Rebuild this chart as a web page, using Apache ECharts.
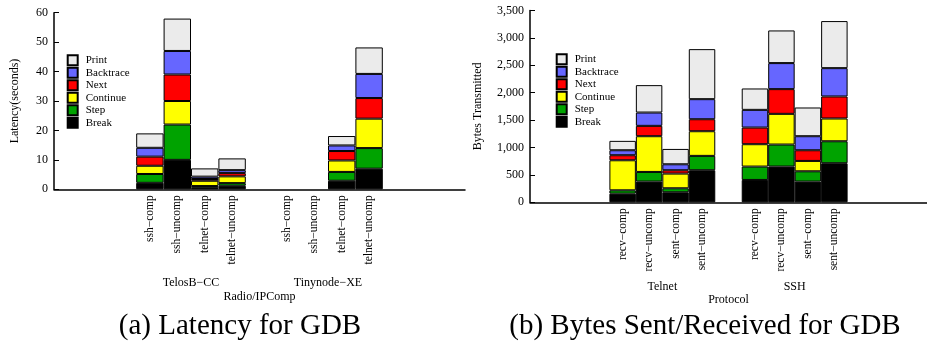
<!DOCTYPE html>
<html><head><meta charset="utf-8">
<script src="https://cdn.jsdelivr.net/npm/echarts@6/dist/echarts.min.js"></script>
<style>html,body{margin:0;padding:0;background:#fff}#c{width:927px;height:341px}</style>
</head><body><div id="c"></div>
<script>
// ---- data ----
const seriesNames = ['Break','Step','Continue','Next','Backtrace','Print'];
const legendOrder = ['Print','Backtrace','Next','Continue','Step','Break'];
const colors = {Break:'#000000',Step:'#00a300',Continue:'#ffff00',Next:'#ff0000',Backtrace:'#6666ff',Print:'#ebebeb'};

// (a) Latency
const latGroups = ['TelosB−CC','Tinynode−XE'];
const latCats = ['ssh−comp','ssh−uncomp','telnet−comp','telnet−uncomp'];
const latBreak    = [2.2, 10, 0.5, 1.2, 0, 0, 2.9, 7];
const latStep     = [3.0, 12, 0.6, 0.9, 0, 0, 3.0, 7];
const latContinue = [2.8, 8, 1.8, 2.3, 0, 0, 3.9, 10];
const latNext     = [3.1, 9, 0.6, 1.1, 0, 0, 3.2, 7];
const latBacktrace= [3.0, 8, 0.8, 1.0, 0, 0, 1.9, 8.2];
const latPrint    = [4.9, 11, 2.8, 4.0, 0, 0, 3.2, 9];
const latTicks = [0,10,20,30,40,50,60];

// (b) Bytes
const byteGroups = ['Telnet','SSH'];
const byteCats = ['recv−comp','recv−uncomp','sent−comp','sent−uncomp'];
const byteBreak    = [158, 378, 183, 585, 408, 652, 378, 713];
const byteStep     = [61, 176, 73, 262, 244, 402, 188, 401];
const byteContinue = [548, 652, 268, 450, 408, 560, 189, 415];
const byteNext     = [92, 189, 61, 219, 304, 451, 195, 402];
const byteBacktrace= [91, 243, 109, 366, 323, 475, 256, 517];
const bytePrint    = [171, 500, 280, 913, 390, 596, 524, 859];
const byteTicks = [0,500,1000,1500,2000,2500,3000,3500];

// ---- layout helpers: 3 empty slots, group, 1 empty slot, group, 3 empty slots ----
function slotLabels(cats){
  const out=['','',''];
  cats.forEach(c=>out.push(c)); out.push(''); cats.forEach(c=>out.push(c)); out.push('','','');
  return out.map((l,i)=>i+'|'+l);
}
function slotVals(v){
  const f=x=> x===0 ? '-' : x;
  return ['-','-','-'].concat(v.slice(0,4).map(f),['-'],v.slice(4,8).map(f),['-','-','-']);
}
const FONT='Liberation Serif';
const latSets = {Break:latBreak,Step:latStep,Continue:latContinue,Next:latNext,Backtrace:latBacktrace,Print:latPrint};
const byteSets = {Break:byteBreak,Step:byteStep,Continue:byteContinue,Next:byteNext,Backtrace:byteBacktrace,Print:bytePrint};

function xAxis(gi, cats){
  return {type:'category',gridIndex:gi,data:slotLabels(cats),
    axisLine:{lineStyle:{color:'#000',width:1.5}},
    axisTick:{inside:true,length:5,alignWithLabel:true,lineStyle:{color:'#000'},interval:(i,v)=>v.split('|')[1]!==''},
    axisLabel:{interval:0,rotate:90,margin:6,color:'#000',fontFamily:FONT,fontSize:11.5,formatter:v=>v.split('|')[1]},
    splitLine:{show:false}};
}
function yAxis(gi, ticks, name, gap, fmt){
  return {type:'value',gridIndex:gi,min:ticks[0],max:ticks[ticks.length-1],interval:ticks[1]-ticks[0],
    name:name,nameLocation:'middle',nameRotate:90,nameGap:gap,
    nameTextStyle:{color:'#000',fontFamily:FONT,fontSize:12},
    axisLine:{show:true,lineStyle:{color:'#000',width:1.5}},
    axisTick:{show:true,inside:true,length:5,lineStyle:{color:'#000'}},
    axisLabel:{margin:6,color:'#000',fontFamily:FONT,fontSize:12,formatter:fmt},
    splitLine:{show:false}};
}
const series=[];
seriesNames.forEach(n=>{
  series.push({name:n,type:'bar',stack:'a',xAxisIndex:0,yAxisIndex:0,barCategoryGap:'0%',
    itemStyle:{color:colors[n],borderColor:'#000',borderWidth:1},data:slotVals(latSets[n])});
  series.push({name:n,type:'bar',stack:'b',xAxisIndex:1,yAxisIndex:1,barCategoryGap:'0%',
    itemStyle:{color:colors[n],borderColor:'#000',borderWidth:1},data:slotVals(byteSets[n])});
});
const legendBase={orient:'vertical',data:legendOrder,itemWidth:10,itemHeight:10,itemGap:0.5,padding:0,icon:'rect',
  textStyle:{color:'#000',fontFamily:FONT,fontSize:11,padding:[0,0,0,3]},selectedMode:false};

const chart=echarts.init(document.getElementById('c'),null,{renderer:'canvas'});
chart.setOption({
  animation:false,
  grid:[{left:54,top:12.7,width:411,height:176.6},{left:530,top:10.5,width:408,height:191.8}],
  xAxis:[xAxis(0,latCats),xAxis(1,byteCats)],
  yAxis:[yAxis(0,latTicks,'Latency(seconds)',33,v=>v),
         yAxis(1,byteTicks,'Bytes Transmitted',46,v=>String(v).replace(/\B(?=(\d{3})+(?!\d))/g,','))],
  legend:[Object.assign({left:66.7,top:54.3},legendBase),Object.assign({left:555.7,top:53.3},legendBase)],
  series:series
});

// annotations placed from axis positions
function groupCenter(xi, cats, g){
  const lab=slotLabels(cats);
  const first=lab[3+g*5], last=lab[6+g*5];
  const a=chart.convertToPixel({xAxisIndex:xi},first), b=chart.convertToPixel({xAxisIndex:xi},last);
  return (a+b)/2;
}
function txt(x,y,t,fs){return {type:'text',x:x,y:y,style:{text:t,fill:'#000',font:fs+'px "'+FONT+'"',align:'center',verticalAlign:'middle'}};}
const ga0=groupCenter(0,latCats,0), ga1=groupCenter(0,latCats,1);
const gb0=groupCenter(1,byteCats,0), gb1=groupCenter(1,byteCats,1);
chart.setOption({graphic:[
  txt(ga0,283,latGroups[0],12), txt(ga1,283,latGroups[1],12), txt((ga0+ga1)/2,297,'Radio/IPComp',12),
  txt(gb0,286.7,byteGroups[0],12), txt(gb1,286.7,byteGroups[1],12), txt((gb0+gb1)/2,300,'Protocol',12),
  txt(240,326,'(a) Latency for GDB',29), txt(705,326,'(b) Bytes Sent/Received for GDB',29)
]});
</script></body></html>
